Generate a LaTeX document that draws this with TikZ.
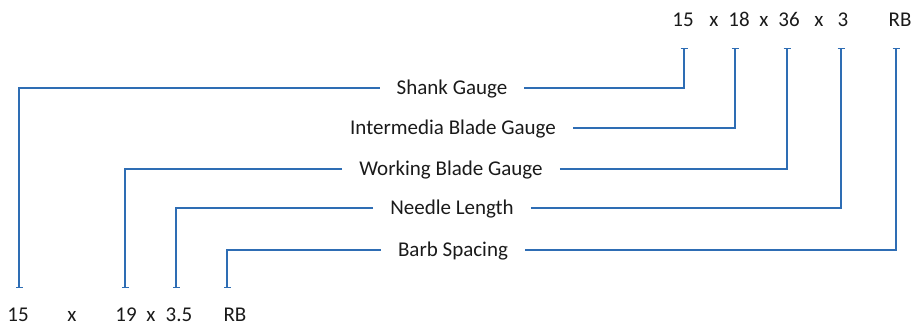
\documentclass[tikz,border=0pt]{standalone}
\usepackage{fontspec}
\setmainfont{Carlito}
\usetikzlibrary{arrows.meta}
\definecolor{lineblue}{HTML}{2E6DB4}
\definecolor{txt}{HTML}{1A1A1A}
\begin{document}
\begin{tikzpicture}[x=1pt,y=-1pt,
  lbl/.style={font=\fontsize{21}{25}\selectfont, text=txt, inner xsep=0pt, inner ysep=0pt,
              text height=13.5pt, text depth=0pt, anchor=center},
  part/.style={lbl, inner xsep=17pt},
  link/.style={draw=lineblue, line width=1.3pt, -{Bar[width=7pt,line width=1.3pt]}}]
\useasboundingbox (0,0) rectangle (912,329);

% code on top
\node[lbl] (t15)  at (683,20) {15};
\node[lbl] (tx1)  at (714,20) {x};
\node[lbl] (t18)  at (739,20) {18};
\node[lbl] (tx2)  at (764,20) {x};
\node[lbl] (t36)  at (789,20) {36};
\node[lbl] (tx3)  at (819,20) {x};
\node[lbl] (t3)   at (843,20) {3};
\node[lbl] (tRB)  at (900,20) {RB};

% code at the bottom
\node[lbl] (b15)  at (18,315) {15};
\node[lbl] (bx1)  at (72,315) {x};
\node[lbl] (b19)  at (126,315) {19};
\node[lbl] (bx2)  at (151,315) {x};
\node[lbl] (b35)  at (179,315) {3.5};
\node[lbl] (bRB)  at (235,315) {RB};

% tick points under / above each field
\coordinate (k15)  at (684,48);
\coordinate (k18)  at (735,48);
\coordinate (k36)  at (787,48);
\coordinate (k3)   at (841,48);
\coordinate (kRB)  at (896,48);
\coordinate (q15)  at (19,288);
\coordinate (q19)  at (125,288);
\coordinate (q35)  at (176,288);
\coordinate (qRB)  at (227,288);

% field names
\node[part] (shank) at (452,88)  {Shank Gauge};
\node[part] (inter) at (453,128) {Intermedia Blade Gauge};
\node[part] (work)  at (451,169) {Working Blade Gauge};
\node[part] (need)  at (452,208) {Needle Length};
\node[part] (barb)  at (453,250) {Barb Spacing};

% connectors
\draw[link] (shank.east) -| (k15);
\draw[link] (shank.west) -| (q15);
\draw[link] (inter.east) -| (k18);
\draw[link] (work.east)  -| (k36);
\draw[link] (work.west)  -| (q19);
\draw[link] (need.east)  -| (k3);
\draw[link] (need.west)  -| (q35);
\draw[link] (barb.east)  -| (kRB);
\draw[link] (barb.west)  -| (qRB);
\end{tikzpicture}
\end{document}
